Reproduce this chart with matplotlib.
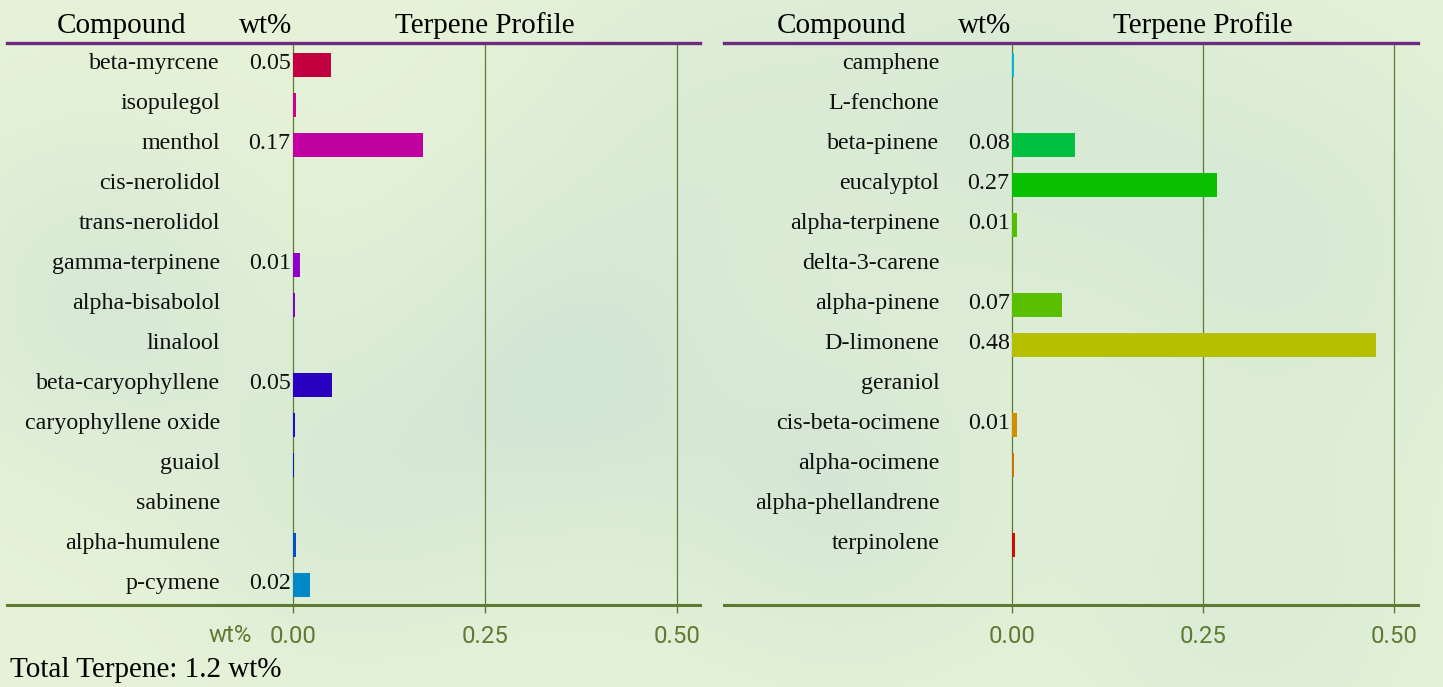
import numpy as np
import matplotlib
matplotlib.use('Agg')
import matplotlib.pyplot as plt

left_names = ['beta-myrcene', 'isopulegol', 'menthol', 'cis-nerolidol', 'trans-nerolidol',
              'gamma-terpinene', 'alpha-bisabolol', 'linalool', 'beta-caryophyllene',
              'caryophyllene oxide', 'guaiol', 'sabinene', 'alpha-humulene', 'p-cymene']
left_vals = [0.050, 0.004, 0.169, 0.0, 0.0, 0.009, 0.002, 0.0, 0.051, 0.002, 0.001, 0.0, 0.004, 0.022]
left_colors = ['#c3003f', '#c8008a', '#c000a0', '#b000b8', '#a000c0', '#9000c8', '#8000d0',
               '#5000c8', '#2a00c0', '#1a10d0', '#0020b0', '#0038c0', '#0050c8', '#0088c8']

right_names = ['camphene', 'L-fenchone', 'beta-pinene', 'eucalyptol', 'alpha-terpinene',
               'delta-3-carene', 'alpha-pinene', 'D-limonene', 'geraniol', 'cis-beta-ocimene',
               'alpha-ocimene', 'alpha-phellandrene', 'terpinolene']
right_vals = [0.002, 0.0, 0.083, 0.268, 0.007, 0.0, 0.066, 0.476, 0.0, 0.006, 0.002, 0.0, 0.004]
right_colors = ['#00b8d0', '#00c090', '#00c040', '#08c000', '#50c000', '#58c000', '#5abf00',
                '#b4c000', '#c8a800', '#d09000', '#d07000', '#d04000', '#c81000']

ticks = [0.0, 0.25, 0.50]
total_label = 'Total Terpene: 1.2 wt%'

W, H = 1443, 687
olive = '#5f7a33'
purple = '#6d2a7f'
serif = 'Liberation Serif'
tickfont = ['Roboto', 'DejaVu Sans']

fig = plt.figure(figsize=(W / 100, H / 100), dpi=100)

# soft blurred green background
bg = fig.add_axes([0, 0, 1, 1])
yy, xx = np.mgrid[0:H:2, 0:W:2]
base = np.zeros(xx.shape + (3,))
base[..., 0] = 230; base[..., 1] = 243; base[..., 2] = 216
blobs = [(100, 300, 120, -14), (560, 380, 140, -16), (850, 500, 120, -14), (1000, 120, 160, -12),
         (1300, 250, 150, -12), (330, 500, 110, -10), (1250, 600, 120, -10), (700, 120, 130, -8)]
for bx, by, r, d in blobs:
    g = np.exp(-((xx - bx) ** 2 + (yy - by) ** 2) / (2 * r ** 2))
    base[..., 0] += d * g
    base[..., 1] += d * 0.7 * g
    base[..., 2] += d * 0.2 * g
bg.imshow(np.clip(base, 0, 255).astype(np.uint8), aspect='auto', extent=[0, W, H, 0])
bg.axis('off')


def panel(x0, x1, zero_px, scale, names, vals, colors, wt_tick):
    ax = fig.add_axes([x0 / W, (H - 605) / H, (x1 - x0) / W, 562 / H])
    ax.patch.set_alpha(0)
    ax.set_xlim(-(zero_px - x0) / scale, (x1 - zero_px) / scale)
    ax.set_ylim(13.5, -0.55)
    ypos = np.arange(len(names))
    ax.barh(ypos, vals, height=0.62, color=colors, zorder=3)
    for t in ticks:
        ax.axvline(t, color=olive, lw=0.9, zorder=1)
    for y, n, v in zip(ypos, names, vals):
        ax.text(-0.095, y - 0.03, n, ha='right', va='center', fontsize=17.3, family=serif,
                color='#111111')
        if round(v, 2) >= 0.01:
            ax.text(-0.003, y - 0.03, '%.2f' % v, ha='right', va='center', fontsize=17.3,
                    family=serif, color='#111111')
    for s in ['left', 'right']:
        ax.spines[s].set_visible(False)
    ax.spines['top'].set_color(purple)
    ax.spines['top'].set_linewidth(2.4)
    ax.spines['bottom'].set_color(olive)
    ax.spines['bottom'].set_linewidth(2.2)
    ax.set_yticks([])
    ax.set_xticks(ticks)
    ax.set_xticklabels(['%.2f' % t for t in ticks], family=tickfont, fontsize=17.3, color=olive)
    ax.tick_params(axis='x', direction='out', length=5.8, width=1, color=olive, pad=8.4)
    hy = 1 + 10 / 562
    tr = ax.get_xaxis_transform()
    ax.text(-0.223, hy, 'Compound', ha='center', va='baseline', transform=tr,
            fontsize=21, family=serif)
    ax.text(-0.036, hy, 'wt%', ha='center', va='baseline', transform=tr,
            fontsize=21, family=serif)
    ax.text(0.25, hy, 'Terpene Profile', ha='center', va='baseline', transform=tr,
            fontsize=21, family=serif)
    if wt_tick:
        ax.text(-0.053, -(642 - 605) / 562, 'wt%', ha='right', va='baseline', transform=tr,
                fontsize=17.3, family=tickfont, color=olive)
    return ax


panel(7, 700, 293, 768, left_names, left_vals, left_colors, True)
panel(724, 1418, 1012, 764, right_names, right_vals, right_colors, False)

fig.text(10 / W, 1 - 677 / H, total_label, ha='left', va='baseline', fontsize=21, family=serif)

fig.savefig('out.png', dpi=100)
